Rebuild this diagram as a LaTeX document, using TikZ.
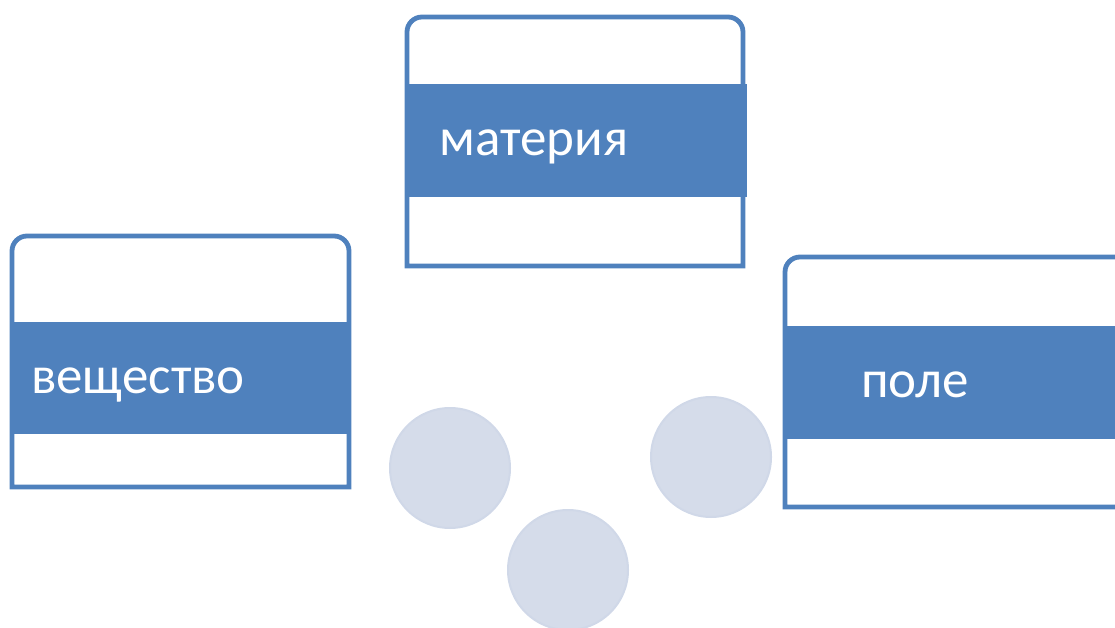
\documentclass[tikz,border=0pt]{standalone}
\usepackage{fontspec}
\setmainfont{Carlito}
\definecolor{cardblue}{HTML}{4F81BD}
\definecolor{dotfill}{HTML}{D5DCEA}
\definecolor{dotline}{HTML}{D0D8E8}
\tikzset{
  frame/.style={draw=cardblue, line width=4.8pt, fill=white},
  band/.style={fill=cardblue, draw=none, inner sep=0pt, anchor=north west},
  caption/.style={text=white, inner sep=0pt, anchor=base west,
    font=\fontsize{53}{64}\selectfont},
  dot/.style={circle, fill=dotfill, draw=dotline, line width=2pt,
    minimum size=120pt, inner sep=0pt}
}
% card outline: rounded top corners, square bottom corners
\newcommand\cardframe[4]{%
  \draw[frame] (#1,#4) -- (#1,#2+15)
    arc[start angle=180, end angle=270, radius=15]
    -- (#3-15,#2)
    arc[start angle=270, end angle=360, radius=15]
    -- (#3,#4) -- cycle;}
\begin{document}
\begin{tikzpicture}[x=1pt,y=-1pt]
\useasboundingbox (0,0) rectangle (1115,628);
\begin{scope}
\clip (0,0) rectangle (1115,628);
% top card
\cardframe{407}{17}{743}{266}
\node[band, minimum width=342pt, minimum height=113pt] (bandM) at (405,84) {};
\node[caption] (textM) at (439,156) {материя};
% left card
\cardframe{12}{236}{349}{487}
\node[band, minimum width=341pt, minimum height=112pt] (bandV) at (10,322) {};
\node[caption] (textV) at (31,393) {вещество};
% right card
\cardframe{785}{257}{1135}{507}
\node[band, minimum width=350pt, minimum height=113pt] (bandP) at (783,326) {};
\node[caption] (textP) at (861,397) {поле};
\end{scope}
% decorative circles
\node[dot] (dotA) at (450,468) {};
\node[dot] (dotB) at (568,570) {};
\node[dot] (dotC) at (711,457) {};
\end{tikzpicture}
\end{document}
